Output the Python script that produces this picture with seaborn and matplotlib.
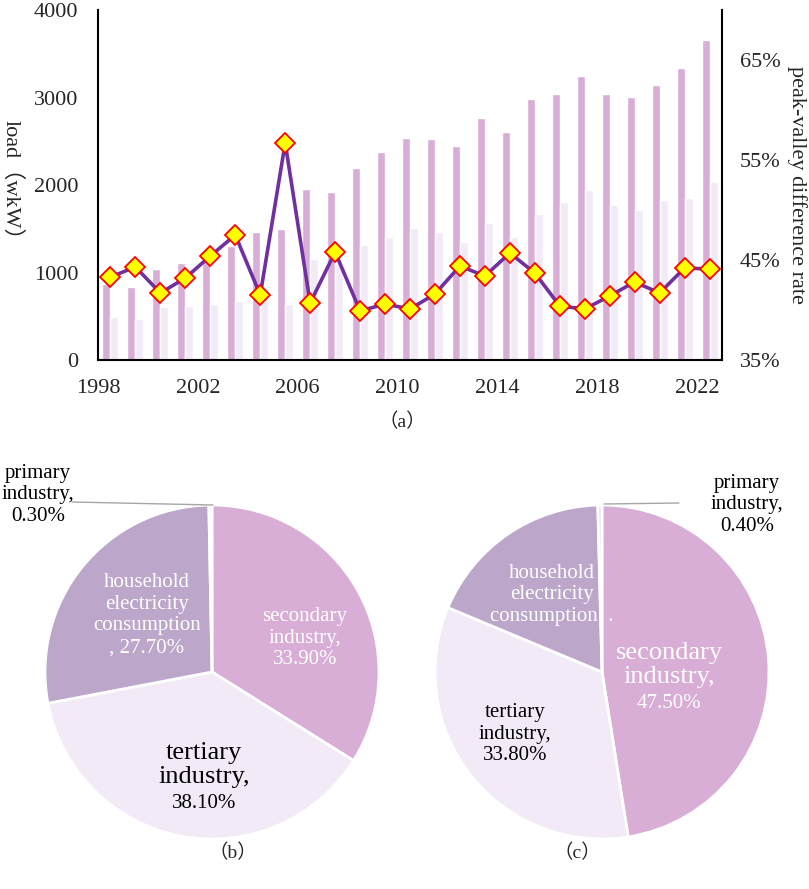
import numpy as np
import pandas as pd
import matplotlib
matplotlib.use("Agg")
import matplotlib.pyplot as plt
from matplotlib.lines import Line2D
from matplotlib.ticker import FuncFormatter
import seaborn as sns

# ---------------- data ----------------
years = list(range(1998, 2023))
peak_load = [870, 840, 1040, 1110, 1160, 1300, 1463, 1493, 1950, 1920, 2194, 2377, 2537,
             2522, 2446, 2766, 2610, 2983, 3036, 3250, 3040, 3010, 3139, 3337, 3657]
valley_load = [490, 465, 602, 617, 640, 678, 800, 640, 1150, 1100, 1310, 1402, 1505,
               1467, 1352, 1562, 1410, 1669, 1806, 1939, 1771, 1714, 1825, 1851, 2034]
pv_rate = [43.3, 44.3, 41.7, 43.2, 45.4, 47.5, 41.5, 56.7, 40.7, 45.8, 39.9, 40.6, 40.1,
           41.6, 44.4, 43.4, 45.7, 43.7, 40.4, 40.1, 41.4, 42.8, 41.7, 44.2, 44.1]
year_ticks = [1998, 2002, 2006, 2010, 2014, 2018, 2022]
left_ticks = [0, 1000, 2000, 3000, 4000]
right_ticks = [35, 45, 55, 65]

pie_cats = ["secondary industry", "tertiary industry", "household electricity consumption", "primary industry"]
pie_b_vals = [33.9, 38.1, 27.7, 0.3]
pie_c_vals = [47.5, 33.8, 18.3, 0.4]

# ---------------- style ----------------
sns.set_theme(style="white")
plt.rcParams['font.family'] = ['Liberation Serif', 'Noto Sans CJK SC', 'DejaVu Sans']
plt.rcParams['axes.unicode_minus'] = False

W, H = 809, 889
fig = plt.figure(figsize=(W / 100, H / 100), dpi=100)

def fx(x):
    return x / W

def fy(y):
    return 1 - y / H

c_dark = "#D8AED6"
c_light = "#F2EAF7"
c_house = "#BCA6CA"
c_prim = "#D9E6F2"
c_line = "#7030A0"

# ---------------- (a) bar + line ----------------
ax = fig.add_axes([fx(98), fy(360), (722 - 98) / W, 350 / H])
df = pd.DataFrame({
    "year": [str(y) for y in years] * 2,
    "load": peak_load + valley_load,
    "kind": ["peak"] * len(years) + ["valley"] * len(years),
})
sns.barplot(data=df, x="year", y="load", hue="kind", palette=[c_dark, c_light],
            width=0.64, gap=0, dodge=True, legend=False, ax=ax, saturation=1)
ax.set_xlim(-0.5, len(years) - 0.5)
ax.set_ylim(0, 4000)
ax.set_yticks(left_ticks)
ax.set_yticklabels([str(v) for v in left_ticks], fontsize=16)
tick_pos = [years.index(y) - 0.5 for y in year_ticks]
ax.set_xticks(tick_pos)
ax.set_xticklabels([str(y) for y in year_ticks], fontsize=16)
ax.set_xlabel("")
ax.set_ylabel("")
ax.tick_params(axis="x", direction="out", length=5, width=1.3, color="black", pad=8.5)
ax.tick_params(axis="y", length=0, pad=14)
for s in ["left", "bottom"]:
    ax.spines[s].set_color("black")
    ax.spines[s].set_linewidth(1.5)
ax.spines["top"].set_visible(False)
ax.spines["right"].set_visible(False)

ax2 = ax.twinx()
sns.lineplot(x=np.arange(len(years)), y=np.array(pv_rate) / 100.0, ax=ax2, color=c_line,
             linewidth=2.6, marker="D", markersize=10, markerfacecolor="#FFFF00",
             markeredgecolor="#FF0000", markeredgewidth=1.3)
ax2.set_ylim(0.35, 0.70)
ax2.set_yticks([v / 100 for v in right_ticks])
ax2.yaxis.set_major_formatter(FuncFormatter(lambda v, p: f"{v*100:.0f}%"))
ax2.tick_params(axis="y", length=0, pad=13, labelsize=16)
ax2.set_xlabel("")
ax2.set_ylabel("")
ax2.spines["top"].set_visible(False)
ax2.spines["left"].set_visible(False)
ax2.spines["bottom"].set_visible(False)
ax2.spines["right"].set_color("black")
ax2.spines["right"].set_linewidth(1.5)
ax2.set_xlim(-0.5, len(years) - 0.5)

fig.text(fx(11), fy(185), "load（wkW）", rotation=-90, ha="center", va="center", fontsize=16)
fig.text(fx(797), fy(185), "peak-valley difference rate", rotation=-90, ha="center",
         va="center", fontsize=16)
fig.text(fx(402), fy(422), "（a）", ha="center", va="center", fontsize=14)

# ---------------- pies ----------------
R = 167

def make_pie(cx, cy, vals):
    axp = fig.add_axes([fx(cx - R), fy(cy + R), 2 * R / W, 2 * R / H])
    axp.pie(vals, colors=[c_dark, c_light, c_house, c_prim], startangle=90,
            counterclock=False, wedgeprops=dict(edgecolor="white", linewidth=2))
    axp.set_xlim(-1, 1)
    axp.set_ylim(-1, 1)
    axp.axis("off")
    return axp

make_pie(212, 672, pie_b_vals)
make_pie(602, 672, pie_c_vals)

def label(x, y, s, color="black", size=15, ls=1.2):
    fig.text(fx(x), fy(y), s, ha="center", va="center", fontsize=size, color=color,
             linespacing=ls)

# pie (b)
label(305, 638, "secondary\nindustry,\n33.90%", color="white")
label(147, 615, "household\nelectricity\nconsumption\n, 27.70%", color="white")
label(204, 765, "tertiary\nindustry,", size=19, ls=1.1)
label(204, 803, "38.10%")
label(38, 495, "primary\nindustry,\n0.30%")
fig.add_artist(Line2D([fx(72), fx(213)], [fy(502), fy(505)], transform=fig.transFigure,
                      color="#A6A6A6", linewidth=1))

# pie (c)
label(669, 665, "secondary\nindustry,", color="white", size=19, ls=1.1)
label(669, 703, "47.50%", color="white")
label(552, 595, "household\nelectricity\nconsumption. .", color="white")
label(515, 734, "tertiary\nindustry,\n33.80%")
label(747, 505, "primary\nindustry,\n0.40%")
fig.add_artist(Line2D([fx(604), fx(679)], [fy(504), fy(503)], transform=fig.transFigure,
                      color="#A6A6A6", linewidth=1))

fig.text(fx(233), fy(853), "（b）", ha="center", va="center", fontsize=14)
fig.text(fx(577), fy(853), "（c）", ha="center", va="center", fontsize=14)

fig.savefig("out.png", dpi=100, facecolor="white")
